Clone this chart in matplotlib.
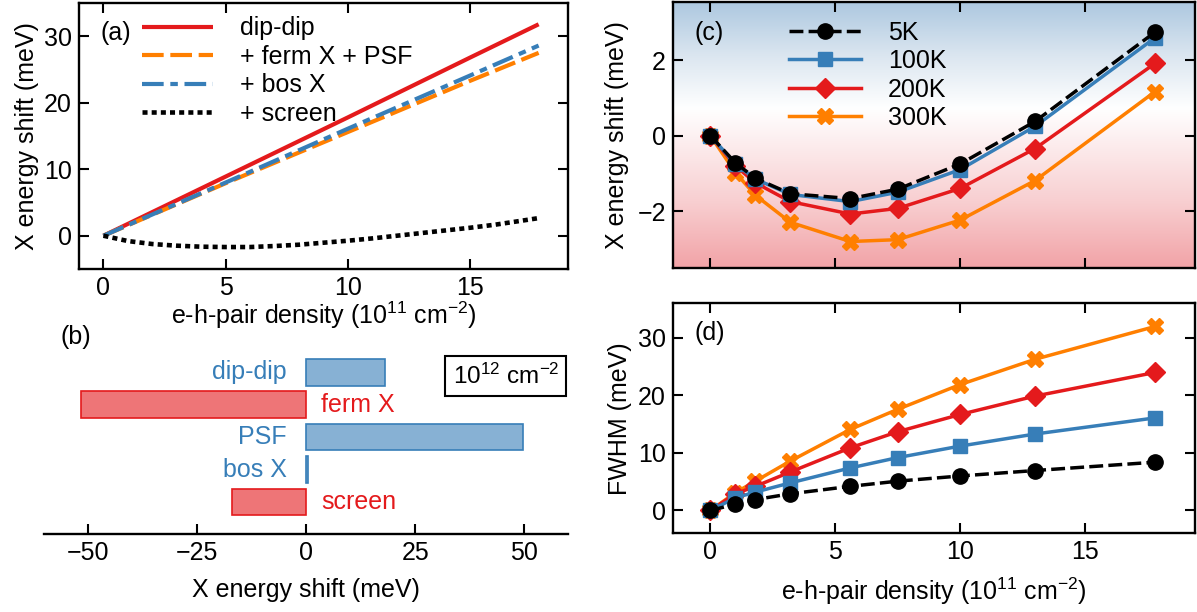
import numpy as np
import matplotlib
matplotlib.use("Agg")
import matplotlib.pyplot as plt
from matplotlib.colors import LinearSegmentedColormap

plt.rcParams['font.family'] = ['Liberation Sans', 'DejaVu Sans']
plt.rcParams['mathtext.fontset'] = 'custom'
plt.rcParams['mathtext.rm'] = 'Liberation Sans'
plt.rcParams['mathtext.it'] = 'Liberation Sans:italic'
plt.rcParams['mathtext.sf'] = 'Liberation Sans'
FS = 18
plt.rcParams['font.size'] = FS

RED = '#e41a1c'
BLUE = '#377eb8'
ORANGE = '#ff7f00'

# ---------------- data ----------------
# (a) theory curves
dens_lin = [0, 5, 10, 15, 17.8]
dipdip = [0, 8.9, 17.8, 26.8, 31.8]
ferm_psf = [0, 7.9, 15.6, 23.3, 27.5]
bos = [0, 8.0, 16.1, 24.1, 28.6]
dens_scr = [0, 1, 2, 3, 4, 5, 6, 7, 8, 9, 10, 11, 12, 13, 14, 15, 16, 17, 17.8]
screen = [0, -0.8, -1.25, -1.5, -1.65, -1.7, -1.7, -1.55, -1.35, -1.05, -0.75,
          -0.4, 0.0, 0.4, 0.8, 1.2, 1.65, 2.2, 2.65]

# (b) contributions at 10^12 cm^-2
contrib_labels = ['dip-dip', 'ferm X', 'PSF', 'bos X', 'screen']
contrib_values = [18.0, -51.5, 49.6, 0.5, -16.9]

# (c), (d) measured
density = [0, 1.0, 1.8, 3.2, 5.6, 7.5, 10.0, 13.0, 17.8]
temps = ['5K', '100K', '200K', '300K']
shift = {
    '5K':   [0, -0.72, -1.13, -1.54, -1.67, -1.42, -0.75, 0.38, 2.75],
    '100K': [0, -0.75, -1.15, -1.56, -1.75, -1.50, -0.90, 0.25, 2.60],
    '200K': [0, -0.80, -1.25, -1.75, -2.08, -1.93, -1.40, -0.34, 1.92],
    '300K': [0, -0.98, -1.58, -2.30, -2.81, -2.76, -2.24, -1.19, 1.17],
}
fwhm = {
    '5K':   [0, 1.1, 1.9, 2.9, 4.2, 5.1, 6.0, 6.95, 8.4],
    '100K': [0, 2.2, 3.2, 4.8, 7.4, 9.2, 11.2, 13.3, 16.1],
    '200K': [0, 2.9, 4.2, 6.7, 10.9, 13.7, 16.7, 19.9, 24.0],
    '300K': [0, 3.1, 5.1, 8.6, 14.1, 17.6, 21.9, 26.3, 32.0],
}

# ---------------- figure ----------------
fig = plt.figure(figsize=(11.97, 6.12), dpi=100)
axA = fig.add_axes([0.066, 0.5605, 0.4085, 0.4346])
axB = fig.add_axes([0.0368, 0.127, 0.4378, 0.3175])
axC = fig.add_axes([0.5622, 0.5629, 0.4361, 0.4338])
axD = fig.add_axes([0.5622, 0.1283, 0.4361, 0.3758])

SPW = 1.7


def style(ax):
    for s in ax.spines.values():
        s.set_linewidth(SPW)
    ax.tick_params(direction='in', length=7, width=1.5, top=True, right=True,
                   labelsize=FS, pad=5)


# ---- (a) ----
style(axA)
lw = 3.0
axA.plot(dens_lin, dipdip, color=RED, lw=lw, solid_capstyle='butt', label='dip-dip')
axA.plot(dens_lin, ferm_psf, color=ORANGE, lw=lw, dashes=(5.2, 1.6), label='+ ferm X + PSF')
axA.plot(dens_lin, bos, color=BLUE, lw=lw, dashes=(5.2, 1.6, 1.8, 1.6), label='+ bos X')
axA.plot(dens_scr, screen, color='black', lw=3.3, dashes=(1.1, 0.9), label='+ screen')
axA.set_xlim(-1, 19)
axA.set_ylim(-5, 35)
axA.set_xticks([0, 5, 10, 15])
axA.set_yticks([0, 10, 20, 30])
axA.set_xlabel('e-h-pair density (10$^{11}$ cm$^{-2}$)', labelpad=0)
axA.set_ylabel('X energy shift (meV)', labelpad=4)
axA.text(0.043, 0.887, '(a)', transform=axA.transAxes, va='center', ha='left', fontsize=FS)
axA.legend(loc='upper left', bbox_to_anchor=(0.128, 0.95), frameon=False,
           handlelength=2.85, handletextpad=1.07, labelspacing=0.18,
           borderpad=0, borderaxespad=0, fontsize=FS)

# ---- (b) ----
ypos = np.arange(len(contrib_labels))
bcols = [BLUE if v >= 0 else RED for v in contrib_values]
axB.barh(ypos, contrib_values, height=0.82, color=bcols, alpha=0.6, edgecolor='none')
axB.barh(ypos, contrib_values, height=0.82, color='none', edgecolor=bcols, lw=1.2)
for y, lab, v, c in zip(ypos, contrib_labels, contrib_values, bcols):
    if v >= 0:
        axB.text(-4.5, y, lab, color=c, ha='right', va='center', fontsize=FS)
    else:
        axB.text(3.5, y, lab, color=c, ha='left', va='center', fontsize=FS)
axB.set_xlim(-60, 60)
axB.set_ylim(5, -1)
for s in ['left', 'top', 'right']:
    axB.spines[s].set_visible(False)
axB.spines['bottom'].set_linewidth(SPW)
axB.set_yticks([])
axB.set_xticks([-50, -25, 0, 25, 50])
axB.tick_params(axis='x', direction='in', length=7, width=1.5, labelsize=FS, pad=5)
axB.set_xlabel('X energy shift (meV)', labelpad=9)
axB.text(0.032, 1.017, '(b)', transform=axB.transAxes, va='center', ha='left', fontsize=FS)
axB.text(0.983, 0.815, '10$^{12}$ cm$^{-2}$', transform=axB.transAxes, ha='right',
         va='center', fontsize=FS - 0.5,
         bbox=dict(boxstyle='square,pad=0.3', fc='white', ec='black', lw=1.5))

# ---- (c) & (d) ----
styles = {
    '5K':   dict(color='black', marker='o', ms=11, dashes=(4, 1.5), lw=2.5),
    '100K': dict(color=BLUE, marker='s', ms=9.5, lw=2.5),
    '200K': dict(color=RED, marker='D', ms=10, lw=2.5),
    '300K': dict(color=ORANGE, marker='X', ms=12, lw=2.5),
}
zo = {'5K': 6, '100K': 5, '200K': 4, '300K': 3}

style(axC)
cmap = LinearSegmentedColormap.from_list(
    'bg', [(0.0, '#f2a3a7'), (0.25, '#f8cfd1'), (0.6, '#ffffff'), (0.8, '#dbe6f0'), (1.0, '#adc8e0')])
grad = np.linspace(0, 1, 256).reshape(-1, 1)
axC.imshow(grad, cmap=cmap, origin='lower', aspect='auto',
           extent=[-1.5, 19.4, -3.5, 3.55], zorder=0)
handles = {}
for t in temps:
    st = styles[t]
    (h,) = axC.plot(density, shift[t], zorder=zo[t], **st)
    handles[t] = h
axC.set_xlim(-1.5, 19.4)
axC.set_ylim(-3.5, 3.55)
axC.set_xticks([0, 5, 10, 15])
axC.set_xticklabels([])
axC.set_yticks([-2, 0, 2])
axC.set_ylabel('X energy shift (meV)', labelpad=6)
axC.text(0.042, 0.883, '(c)', transform=axC.transAxes, va='center', ha='left', fontsize=FS)
axC.legend([handles[t] for t in temps], temps, loc='upper left',
           bbox_to_anchor=(0.223, 0.93), frameon=False,
           handlelength=2.85, handletextpad=1.1, labelspacing=0.18,
           borderpad=0, borderaxespad=0, fontsize=FS)

style(axD)
for t in temps:
    axD.plot(density, fwhm[t], zorder=zo[t], **styles[t])
axD.set_xlim(-1.5, 19.4)
axD.set_ylim(-4, 36)
axD.set_xticks([0, 5, 10, 15])
axD.set_yticks([0, 10, 20, 30])
axD.set_xlabel('e-h-pair density (10$^{11}$ cm$^{-2}$)', labelpad=8)
axD.set_ylabel('FWHM (meV)', labelpad=4)
axD.text(0.042, 0.872, '(d)', transform=axD.transAxes, va='center', ha='left', fontsize=FS)

fig.savefig('out.png', dpi=100)
